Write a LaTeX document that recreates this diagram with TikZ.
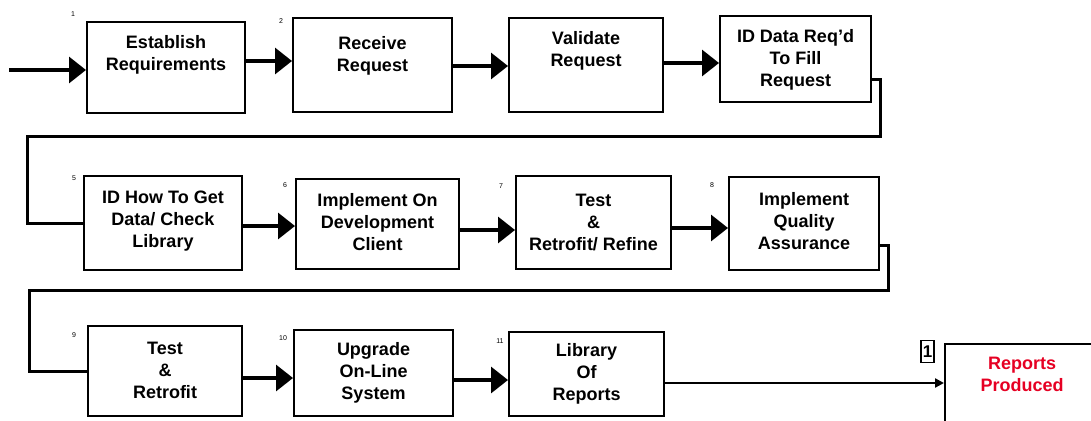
\documentclass[tikz,border=0pt]{standalone}
\usepackage{fontspec}
\setmainfont{Liberation Sans}
\usetikzlibrary{arrows.meta}
\definecolor{repred}{RGB}{230,0,35}
\begin{document}
\begin{tikzpicture}[x=1pt,y=-1pt,
  box/.style={draw, line width=2pt, inner sep=0pt},
  txt/.style={align=center, font=\fontsize{18}{22}\selectfont\bfseries, inner sep=0pt},
  num/.style={font=\fontsize{7}{8}\selectfont, inner sep=0pt},
  arr/.style={line width=3.2pt, -{Triangle[length=17pt,width=26pt]}},
  conn/.style={line width=3pt},
]
\useasboundingbox (0,0) rectangle (1091,420);
\clip (0,0) rectangle (1091,420);
\fill[white] (0,0) rectangle (1091,420);

% row 1
\node[box, minimum width=158pt, minimum height=91pt] (b1) at (166,67.5) {};
\node[box, minimum width=159pt, minimum height=94pt] (b2) at (372.5,65) {};
\node[box, minimum width=154pt, minimum height=94pt] (b3) at (586,65) {};
\node[box, minimum width=151pt, minimum height=86pt] (b4) at (795.5,59) {};
% row 2
\node[box, minimum width=158pt, minimum height=94pt] (b5) at (163,223) {};
\node[box, minimum width=163pt, minimum height=90pt] (b6) at (377.5,224) {};
\node[box, minimum width=155pt, minimum height=93pt] (b7) at (593.5,222.5) {};
\node[box, minimum width=150pt, minimum height=93pt] (b8) at (804,223.5) {};
% row 3
\node[box, minimum width=154pt, minimum height=90pt] (b9) at (165,371) {};
\node[box, minimum width=159pt, minimum height=86pt] (b10) at (373.5,373) {};
\node[box, minimum width=155pt, minimum height=84pt] (b11) at (586.5,374) {};
\node[box, minimum width=154pt, minimum height=88pt] (rep) at (1022,388) {};

% texts
\node[txt] (t1) at (166,54.5) {Establish\\Requirements};
\node[txt] (t2) at (372.5,56) {Receive\\Request};
\node[txt] (t3) at (586,50.5) {Validate\\Request};
\node[txt] (t4) at (795.5,60) {ID Data Req'd\\To Fill\\Request};
\node[txt] (t5) at (163,221.5) {ID How To Get\\Data/ Check\\Library};
\node[txt] (t6) at (377.5,222) {Implement On\\Development\\Client};
\node[txt] (t7) at (593.5,222) {Test\\\&\\Retrofit/ Refine};
\node[txt] (t8) at (804,221) {Implement\\Quality\\Assurance};
\node[txt] (t9) at (165,370) {Test\\\&\\Retrofit};
\node[txt] (t10) at (373.5,373) {Upgrade\\On-Line\\System};
\node[txt] (t11) at (586.5,374) {Library\\Of\\Reports};
\node[txt, text=repred] (trep) at (1022,374) {Reports\\Produced};

% step numbers
\node[num] (n1) at (73,14) {1};
\node[num] (n2) at (281,21) {2};
\node[num] (n5) at (74,178) {5};
\node[num] (n6) at (285,185) {6};
\node[num] (n7) at (501,186) {7};
\node[num] (n8) at (712,185) {8};
\node[num] (n9) at (74,335) {9};
\node[num] (n10) at (283,338) {10};
\node[num] (n11) at (500,341) {11};
\node[draw, line width=1.2pt, minimum width=13pt, minimum height=22pt, inner sep=0pt,
      font=\fontsize{17}{17}\selectfont\bfseries] (one) at (927.5,351.5) {1};

% connectors
\coordinate (in) at (9,70);
\draw[arr] (in) -- (in -| b1.west);
\draw[arr] ([yshift=6.5pt]b1.east) -- ([yshift=6.5pt]b1.east -| b2.west);
\draw[arr] ([yshift=-1pt]b2.east) -- ([yshift=-1pt]b2.east -| b3.west);
\draw[arr] ([yshift=2pt]b3.east) -- ([yshift=2pt]b3.east -| b4.west);

\coordinate (r1) at (880,136);
\coordinate (l1) at (27,136);
\draw[conn] ([yshift=-20pt]b4.east) -| (r1) -- (l1) |- (b5.west);

\draw[arr] ([yshift=-3pt]b5.east) -- ([yshift=-3pt]b5.east -| b6.west);
\draw[arr] ([yshift=-6pt]b6.east) -- ([yshift=-6pt]b6.east -| b7.west);
\draw[arr] ([yshift=-5.5pt]b7.east) -- ([yshift=-5.5pt]b7.east -| b8.west);

\coordinate (r2) at (888,290);
\coordinate (l2) at (29,290);
\draw[conn] ([yshift=-21.5pt]b8.east) -| (r2) -- (l2) |- (b9.west);

\draw[arr] ([yshift=-7pt]b9.east) -- ([yshift=-7pt]b9.east -| b10.west);
\draw[arr] ([yshift=-7pt]b10.east) -- ([yshift=-7pt]b10.east -| b11.west);
\draw[line width=2.6pt, -{Triangle[length=9pt,width=9pt]}] ([yshift=-9pt]b11.east) -- ([yshift=-9pt]b11.east -| rep.west);
\end{tikzpicture}
\end{document}
